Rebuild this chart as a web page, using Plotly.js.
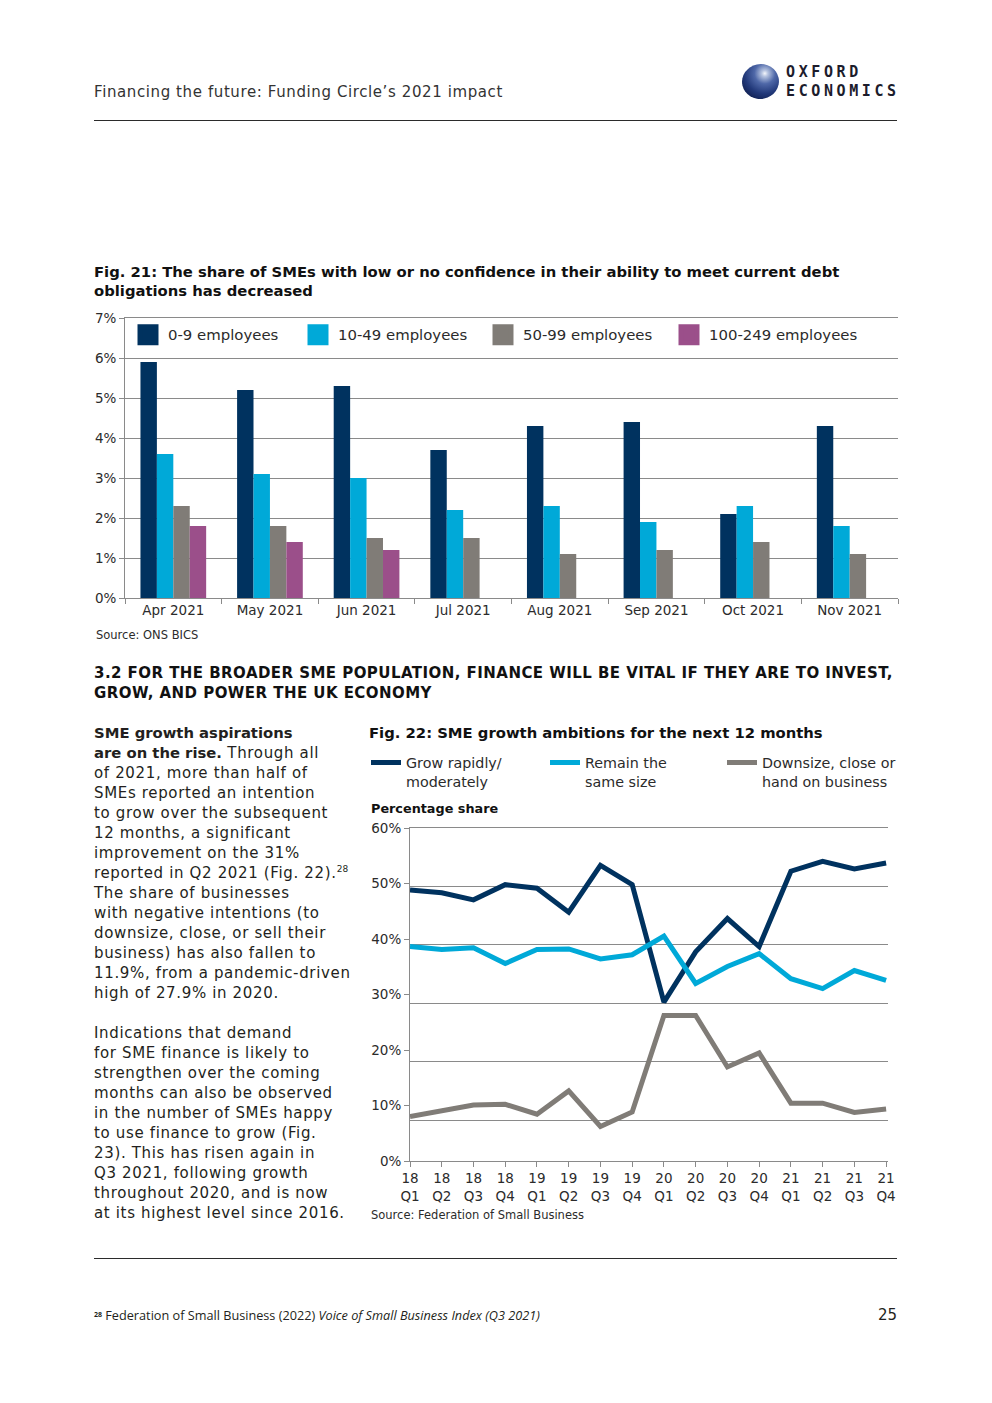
<!DOCTYPE html>
<html>
<head>
<meta charset="utf-8">
<script src="https://cdn.plot.ly/plotly-3.0.1.min.js"></script>
<style>
html,body{margin:0;padding:0;background:#fff;}
body{width:992px;height:1403px;position:relative;overflow:hidden;font-family:"DejaVu Sans",sans-serif;color:#231f20;}
.abs{position:absolute;}
.rule{position:absolute;left:94px;width:803px;height:1px;background:#2b2b2b;}
#body-text{left:94px;top:723px;width:270px;font-size:15px;line-height:20px;letter-spacing:0.65px;white-space:nowrap;color:#231f20;}
#body-text b{font-weight:bold;letter-spacing:0;font-size:14.8px;}
#body-text sup{font-size:9px;line-height:0;vertical-align:6px;letter-spacing:0;}
</style>
</head>
<body>
<!-- header -->
<div class="abs" style="left:94px;top:82px;font-size:15px;line-height:20px;letter-spacing:0.6px;color:#333;white-space:nowrap">Financing the future: Funding Circle’s 2021 impact</div>
<div class="abs" style="left:742px;top:64px;width:37px;height:35px;border-radius:50%;background:radial-gradient(circle at 66% 30%, #f4f6fb 0%, #b5c3e0 9%, #4f68a8 30%, #22397a 58%, #0e1d4c 85%, #0a1438 100%);transform:rotate(-12deg)"></div>
<div class="abs" style="left:786px;top:63px;font-family:'DejaVu Sans Mono',monospace;font-weight:bold;font-size:15px;line-height:19px;letter-spacing:3.6px;color:#1c1c2c;white-space:nowrap">OXFORD<br>ECONOMICS</div>
<div class="rule" style="top:120px"></div>

<div class="abs" id="fig21" style="left:0;top:250px;width:992px;height:400px"></div>

<div class="abs" style="left:94px;top:663px;font-size:15px;line-height:20px;font-weight:bold;letter-spacing:0.45px;white-space:nowrap;color:#111">3.2 FOR THE BROADER SME POPULATION, FINANCE WILL BE VITAL IF THEY ARE TO INVEST,<br>GROW, AND POWER THE UK ECONOMY</div>

<div class="abs" id="body-text"><b>SME growth aspirations<br>are on the rise.</b> Through all<br>of 2021, more than half of<br>SMEs reported an intention<br>to grow over the subsequent<br>12 months, a significant<br>improvement on the 31%<br>reported in Q2 2021 (Fig. 22).<sup>28</sup><br>The share of businesses<br>with negative intentions (to<br>downsize, close, or sell their<br>business) has also fallen to<br>11.9%, from a pandemic-driven<br>high of 27.9% in 2020.<br><br>Indications that demand<br>for SME finance is likely to<br>strengthen over the coming<br>months can also be observed<br>in the number of SMEs happy<br>to use finance to grow (Fig.<br>23). This has risen again in<br>Q3 2021, following growth<br>throughout 2020, and is now<br>at its highest level since 2016.</div>

<div class="abs" id="fig22" style="left:0;top:720px;width:992px;height:520px"></div>

<div class="rule" style="top:1258px"></div>
<div class="abs" style="left:94px;top:1306px;font-family:'Open Sans',sans-serif;font-size:12.7px;line-height:18px;white-space:nowrap;color:#231f20"><sup style="font-size:7px;font-weight:bold;vertical-align:3px">28</sup> Federation of Small Business (2022) <i>Voice of Small Business Index (Q3 2021)</i></div>
<div class="abs" style="right:95px;top:1304px;font-size:15px;line-height:22px;color:#231f20">25</div>

<script>
// ---------- Fig. 21 data ----------
const months = ['Apr 2021','May 2021','Jun 2021','Jul 2021','Aug 2021','Sep 2021','Oct 2021','Nov 2021'];
const emp0to9 = [5.9, 5.2, 5.3, 3.7, 4.3, 4.4, 2.1, 4.3];
const emp10to49 = [3.6, 3.1, 3.0, 2.2, 2.3, 1.9, 2.3, 1.8];
const emp50to99 = [2.3, 1.8, 1.5, 1.5, 1.1, 1.2, 1.4, 1.1];
const emp100to249 = [1.8, 1.4, 1.2, null, null, null, null, null];
const fig21Names = ['0-9 employees','10-49 employees','50-99 employees','100-249 employees'];

// ---------- Fig. 22 data ----------
const quarters = ['18<br>Q1','18<br>Q2','18<br>Q3','18<br>Q4','19<br>Q1','19<br>Q2','19<br>Q3','19<br>Q4',
                  '20<br>Q1','20<br>Q2','20<br>Q3','20<br>Q4','21<br>Q1','21<br>Q2','21<br>Q3','21<br>Q4'];
const growShare = [49.4, 48.9, 47.7, 50.3, 49.7, 45.6, 53.6, 50.3, 30.2, 38.8, 44.5, 39.7, 52.6, 54.3, 53.0, 54.0];
const remainShare = [39.7, 39.2, 39.5, 36.8, 39.2, 39.3, 37.6, 38.3, 41.5, 33.4, 36.3, 38.5, 34.2, 32.5, 35.6, 33.9];
const downsizeShare = [10.6, 11.7, 12.6, 12.7, 11.0, 15.0, 8.9, 11.4, 27.9, 27.9, 19.1, 21.5, 12.9, 12.9, 11.3, 11.9];
const fig22Names = ['Grow rapidly/<br>moderately','Remain the<br>same size','Downsize, close or<br>hand on business'];
const pctTicks = [0, 10, 20, 30, 40, 50, 60];
const pctLabels = ['0%', '10%', '20%', '30%', '40%', '50%', '60%'];

const NAVY = '#00325f', CYAN = '#00a9d8', GREY = '#807c77', PURPLE = '#9b4f8a';
const GRID = '#8a8a8a';
const FONT = 'DejaVu Sans, sans-serif';
const cfg = {staticPlot: true, displayModeBar: false};

// ---------- Fig. 21 ----------
const seriesVals = [emp0to9, emp10to49, emp50to99, emp100to249];
const seriesCols = [NAVY, CYAN, GREY, PURPLE];
const legendWidths = [125, 140, 141, null];
const t21 = [];
seriesVals.forEach((v, i) => {
  t21.push({type: 'bar', x: months, y: v, name: fig21Names[i], marker: {color: seriesCols[i]},
            showlegend: false, legendgroup: 'g' + i, hoverinfo: 'skip'});
});
seriesVals.forEach((v, i) => {
  const tr = {type: 'scatter', mode: 'markers', x: [null], y: [null], name: fig21Names[i], legendgroup: 'g' + i,
            marker: {symbol: 'square', size: 16, color: seriesCols[i], line: {width: 5, color: seriesCols[i]}},
            hoverinfo: 'skip'};
  if (legendWidths[i]) tr.legendwidth = legendWidths[i];
  t21.push(tr);
});

Plotly.newPlot('fig21', t21, {
  width: 992, height: 400,
  margin: {l: 125, r: 94, t: 68, b: 52, pad: 0, autoexpand: false},
  paper_bgcolor: 'rgba(0,0,0,0)', plot_bgcolor: 'rgba(0,0,0,0)',
  font: {family: FONT, size: 13.5, color: '#2b2b2b'},
  title: {text: 'Fig. 21: The share of SMEs with low or no confidence in their ability to meet current debt<br>obligations has decreased',
          xref: 'container', yref: 'container', x: 94 / 992, xanchor: 'left', y: 1 - 27 / 400, yanchor: 'top',
          font: {family: FONT, size: 14.8, weight: 'bold', color: '#111'}},
  barmode: 'group', bargap: 0.32, bargroupgap: 0,
  xaxis: {type: 'category', range: [-0.5, 7.5], tickson: 'boundaries', ticks: 'outside', ticklen: 5,
          tickcolor: GRID, showline: true, mirror: true, linecolor: GRID, linewidth: 1, showgrid: false, zeroline: false,
          tickfont: {size: 13.5}},
  yaxis: {range: [0, 7], dtick: 1, tick0: 0, ticksuffix: '%', showgrid: true, gridcolor: GRID, gridwidth: 1,
          ticks: 'outside', ticklen: 5, tickcolor: GRID, showline: true, linecolor: GRID, zeroline: false,
          tickfont: {size: 13.5}},
  legend: {orientation: 'h', xref: 'container', yref: 'container', x: 128 / 992, xanchor: 'left',
           y: 1 - 85 / 400, yanchor: 'middle', bgcolor: 'rgba(0,0,0,0)', borderwidth: 0,
           font: {size: 14.9, color: '#2b2b2b'}, traceorder: 'normal', itemsizing: 'trace'},
  annotations: [{text: 'Source: ONS BICS', xref: 'paper', yref: 'paper', x: (94 - 125) / 773, xanchor: 'left',
                 y: -(635 - 598) / 280, yanchor: 'middle', showarrow: false, font: {size: 11.5, color: '#2b2b2b'}}]
}, cfg);

// ---------- Fig. 22 ----------
const t22 = [
  {type: 'scatter', mode: 'lines', x: quarters, y: growShare, name: fig22Names[0], line: {color: NAVY, width: 5},
   legendwidth: 134, hoverinfo: 'skip'},
  {type: 'scatter', mode: 'lines', x: quarters, y: remainShare, name: fig22Names[1], line: {color: CYAN, width: 5},
   legendwidth: 132, hoverinfo: 'skip'},
  {type: 'scatter', mode: 'lines', x: quarters, y: downsizeShare, name: fig22Names[2], line: {color: GREY, width: 5},
   hoverinfo: 'skip'},
  {type: 'scatter', mode: 'lines', x: [null], y: [null], yaxis: 'y2', showlegend: false, hoverinfo: 'skip'}
];
const plotH = 1161 - 827.5;
Plotly.newPlot('fig22', t22, {
  width: 992, height: 520,
  margin: {l: 410, r: 104, t: 107.5, b: 79, pad: 0, autoexpand: false},
  paper_bgcolor: 'rgba(0,0,0,0)', plot_bgcolor: 'rgba(0,0,0,0)',
  font: {family: FONT, size: 13.5, color: '#2b2b2b'},
  title: {text: 'Fig. 22: SME growth ambitions for the next 12 months',
          xref: 'container', yref: 'container', x: 369 / 992, xanchor: 'left', y: 1 - 8 / 520, yanchor: 'top',
          font: {family: FONT, size: 14.8, weight: 'bold', color: '#111'}},
  xaxis: {type: 'category', range: [0, 15.06], ticks: 'outside', ticklen: 5, tickcolor: GRID,
          showline: true, mirror: true, linecolor: GRID, linewidth: 1, showgrid: false, zeroline: false,
          tickfont: {size: 13.5}},
  yaxis: {range: [3, 60], tickmode: 'array', tickvals: pctTicks, showgrid: true, gridcolor: GRID, gridwidth: 1,
          showticklabels: false, ticks: '', zeroline: false, showline: false},
  yaxis2: {overlaying: 'y', side: 'left', anchor: 'x', type: 'linear', range: [0, 60],
           tickmode: 'array', tickvals: pctTicks, ticktext: pctLabels,
           showgrid: false, showline: true, linecolor: GRID, ticks: 'outside', ticklen: 5, tickcolor: GRID,
           zeroline: false, tickfont: {size: 13.5}},
  legend: {orientation: 'h', xref: 'paper', yref: 'paper', x: (366 - 410) / 478, xanchor: 'left',
           y: 1 + (827.5 - 746) / plotH, yanchor: 'top', valign: 'top', bgcolor: 'rgba(0,0,0,0)', borderwidth: 0,
           font: {size: 14.3, color: '#2b2b2b'}, traceorder: 'normal'},
  annotations: [
    {text: '<b>Percentage share</b>', xref: 'paper', yref: 'paper', x: (369 - 410) / 478, xanchor: 'left',
     y: 1 + (827.5 - 808) / plotH, yanchor: 'middle', showarrow: false, font: {size: 12.8, color: '#111'}},
    {text: 'Source: Federation of Small Business', xref: 'paper', yref: 'paper', x: (369 - 410) / 478, xanchor: 'left',
     y: -(1215 - 1161) / plotH, yanchor: 'middle', showarrow: false, font: {size: 11.5, color: '#2b2b2b'}}
  ]
}, cfg);
</script>
</body>
</html>
